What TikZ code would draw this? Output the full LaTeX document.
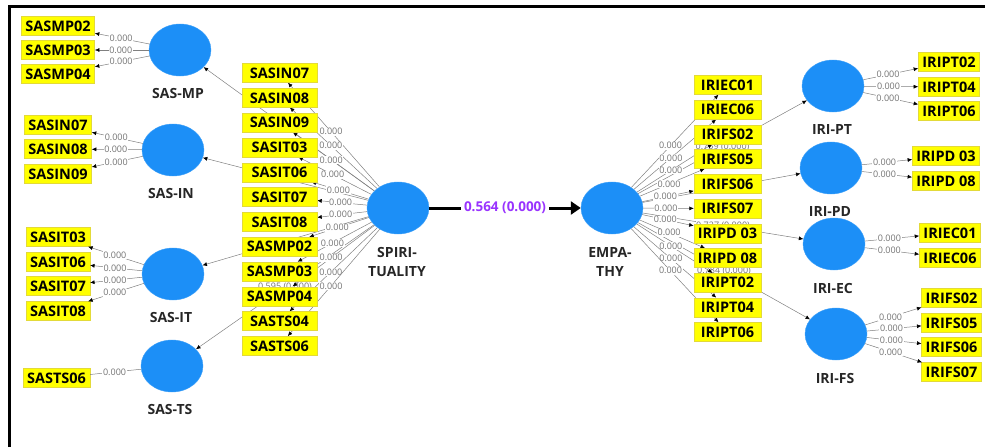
\documentclass[tikz,border=0pt]{standalone}
\usepackage{fontspec}
\setmainfont{Open Sans}
\usetikzlibrary{shapes,backgrounds,calc}
\usetikzlibrary{arrows.meta}
\usetikzlibrary{positioning}
\definecolor{lvBlue}{RGB}{28,143,247}
\definecolor{indYellow}{RGB}{255,255,0}
\definecolor{pathPurple}{RGB}{153,51,255}
\tikzset{
    latent/.style={
        ,   ellipse
        ,   fill=lvBlue
        ,   draw=lvBlue!85!white
        ,   minimum width=62pt
        ,   minimum height=52pt
        ,   inner sep=0pt
    },
    latentName/.style={
        ,   font={\fontsize{14}{19}\selectfont\bfseries}
        ,   text=black!85
        ,   align=center
        ,   inner sep=0pt
    },
    indicator/.style={
        ,   rectangle
        ,   fill=indYellow
        ,   draw=yellow!75!gray
        ,   font={\fontsize{14.5}{15}\selectfont\bfseries}
        ,   text height=10.5pt
        ,   text depth=0pt
        ,   minimum height=19pt
        ,   inner xsep=4pt
        ,   inner ysep=0pt
    },
    loading/.style={
        ,   draw=black!50
        ,   line width=0.5pt
        ,   -{Latex[black,length=4.5pt,width=4pt]}
    },
    loadLab/.style={
        ,   font={\fontsize{9}{10}\selectfont}
        ,   text=black!55
        ,   fill=white
        ,   inner sep=0.6pt
    },
}

\begin{document}
\begin{tikzpicture}[x=1pt, y=-1pt]
\useasboundingbox (0,0) rectangle (985,447);
\draw[line width=3pt] (9,447) -- (9,6) -- (985,6);

% second order constructs
\node[latent] (spir) at (398,208) {};
\node[latentName] (spirName) at (397,262) {SPIRI-\\TUALITY};
\node[latent] (emp) at (612,208) {};
\node[latentName] (empName) at (610,262) {EMPA-\\THY};

\draw[line width=3pt, -{Triangle[length=10pt,width=13pt]}] (spir) --
  node[font={\fontsize{13.5}{14}\selectfont\bfseries}, text=pathPurple, fill=white, inner xsep=3pt] (beta) {0.564 (0.000)} (emp);

% first order constructs
\foreach \n/\x/\y/\t in {mp/180/50/SAS-MP, in/173/150/SAS-IN, it/173/274/SAS-IT, ts/172/366/SAS-TS}{
  \node[latent] (\n) at (\x,\y) {};
  \node[latentName] (\n-name) at (\x-2,\y+43) {\t};
}
\foreach \n/\x/\y/\t in {pt/833/86/IRI-PT, pd/831/168/IRI-PD, ec/834/244/IRI-EC, fs/836/334/IRI-FS}{
  \node[latent] (\n) at (\x,\y) {};
  \node[latentName] (\n-name) at (\x-1,\y+44) {\t};
}

\begin{scope}[on background layer]
\foreach \n in {mp,in,it}{
  \draw[loading] (spir) -- (\n);
}
\draw[loading] (spir) -- node[loadLab] (tsPath) {0.595 (0.000)} (ts);
\draw[loading] (emp) -- node[loadLab] (ptPath) {0.759 (0.000)} (pt);
\draw[loading] (emp) -- (pd);
\draw[loading] (emp) -- node[loadLab] (ecPath) {0.727 (0.000)} (ec);
\draw[loading] (emp) -- node[loadLab] (fsPath) {0.784 (0.000)} (fs);
\end{scope}

% indicators of SPIRITUALITY
\foreach \t [count=\i] in {SASIN07,SASIN08,SASIN09,SASIT03,SASIT06,SASIT07,SASIT08,SASMP02,SASMP03,SASMP04,SASTS04,SASTS06}{
  \node[indicator, minimum width=75pt] (s-\t) at (279.5,{73+24.8*(\i-1)}) {\t};
  \begin{scope}[on background layer]
    \draw[loading] (spir) -- node[loadLab, pos=0.53] {0.000} (s-\t);
  \end{scope}
}

% indicators of EMPATHY
\foreach \t [count=\i] in {IRIEC01,IRIEC06,IRIFS02,IRIFS05,IRIFS06,IRIFS07,IRIPD 03,IRIPD 08,IRIPT02,IRIPT04,IRIPT06}{
  \node[indicator, minimum width=67pt] (e-\i) at (727.5,{85+24.7*(\i-1)}) {\t};
  \begin{scope}[on background layer]
    \draw[loading] (emp) -- node[loadLab, pos=0.45] {0.000} (e-\i);
  \end{scope}
}

% left indicators
\foreach \n/\t/\x/\y in {mp/SASMP02/58/26, mp/SASMP03/58/50, mp/SASMP04/58/74,
  in/SASIN07/58/125, in/SASIN08/58/149, in/SASIN09/58/174,
  it/SASIT03/58/237, it/SASIT06/58/262, it/SASIT07/58/286, it/SASIT08/58/311}{
  \node[indicator] (l-\t) at (\x,\y) {\t};
  \draw[loading] (\n) -- node[loadLab, pos=0.52] {0.000} (l-\t);
}
\node[indicator] (l-SASTS06) at (56.5,378) {SASTS06};
\draw[loading, -] (ts) -- node[loadLab, pos=0.52] {0.000} (l-SASTS06);

% right indicators
\foreach \n/\t/\x/\y [count=\i] in {pt/IRIPT02/949/62, pt/IRIPT04/949/87, pt/IRIPT06/949/111,
  pd/IRIPD 03/946/156, pd/IRIPD 08/946/181,
  ec/IRIEC01/950/233, ec/IRIEC06/950/258,
  fs/IRIFS02/951.5/298, fs/IRIFS05/951.5/323, fs/IRIFS06/951.5/347, fs/IRIFS07/951.5/372}{
  \node[indicator] (r-\i) at (\x,\y) {\t};
  \draw[loading] (\n) -- node[loadLab, pos=0.45] {0.000} (r-\i);
}
\end{tikzpicture}
\end{document}
